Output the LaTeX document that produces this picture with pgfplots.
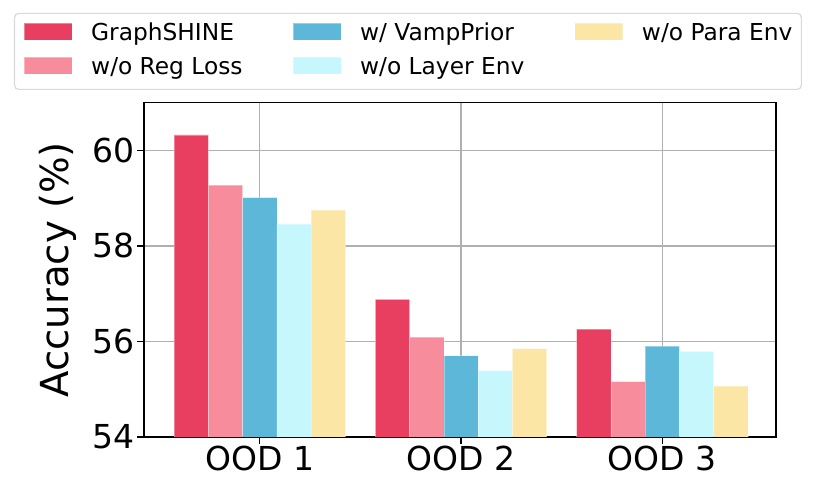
\documentclass[border=0pt]{standalone}
\usepackage{fontspec}
\setmainfont{DejaVu Sans}
\usepackage{pgfplots}
\pgfplotsset{compat=1.18}
\definecolor{cA}{RGB}{232,63,96}
\definecolor{cB}{RGB}{247,141,156}
\definecolor{cC}{RGB}{93,183,216}
\definecolor{cD}{RGB}{197,247,252}
\definecolor{cE}{RGB}{251,230,165}
\begin{document}
\begin{tikzpicture}
\useasboundingbox (-144pt,-63pt) rectangle (670pt,437pt);
\begin{axis}[
  at={(0pt,0pt)}, anchor=south west,
  scale only axis, width=632pt, height=334.5pt,
  xmin=-0.575, xmax=2.565, ymin=54, ymax=61,
  xtick={0,1,2}, xticklabels={OOD 1,OOD 2,OOD 3},
  ytick={54,56,58,60},
  tick pos=left, tick align=outside, major tick length=7pt,
  grid=major, grid style={color=black!31, line width=1.3pt},
  axis line style={line width=1.3pt},
  tick style={black, line width=1.3pt},
  /pgf/number format/assume math mode=true,
  ticklabel style={font=\fontsize{33}{40}\selectfont, inner sep=2pt},
  ylabel={Accuracy (\%)},
  every axis y label/.style={at={(axis description cs:-0.1361,0.5)}, rotate=90, anchor=center, font=\fontsize{38.6}{46}\selectfont},
  ybar, bar width=0.17,
  legend columns=2, transpose legend,
  legend style={at={(axis description cs:-0.2057,1.0374)}, anchor=south west,
    draw=black!15, line width=1.2pt, rounded corners=4pt,
    inner xsep=9pt, inner ysep=9.5pt,
    font=\fontsize{23.3}{28}\selectfont,
    nodes={inner sep=0pt, text height=17.5pt, text depth=5.5pt, anchor=base west},
    /tikz/column sep=19pt,
    /tikz/every even column/.append style={column sep=50pt},
    /tikz/row sep=11pt},
  legend image code/.code={\fill[#1, sharp corners] (0pt,0pt) rectangle (48pt,17pt);},
]
\addplot[fill=cA, draw=white, draw opacity=0.35, line width=0.6pt, bar shift=0pt] coordinates {(-0.34,60.32) (0.66,56.88) (1.66,56.26)};
\addplot[fill=cB, draw=white, draw opacity=0.35, line width=0.6pt, bar shift=0pt] coordinates {(-0.17,59.27) (0.83,56.09) (1.83,55.16)};
\addplot[fill=cC, draw=white, draw opacity=0.35, line width=0.6pt, bar shift=0pt] coordinates {(0,59.01) (1,55.70) (2,55.90)};
\addplot[fill=cD, draw=white, draw opacity=0.35, line width=0.6pt, bar shift=0pt] coordinates {(0.17,58.46) (1.17,55.39) (2.17,55.79)};
\addplot[fill=cE, draw=white, draw opacity=0.35, line width=0.6pt, bar shift=0pt] coordinates {(0.34,58.75) (1.34,55.85) (2.34,55.07)};
\legend{GraphSHINE, w/o Reg Loss, w/ VampPrior, w/o Layer Env, w/o Para Env}
\end{axis}
\end{tikzpicture}
\end{document}
